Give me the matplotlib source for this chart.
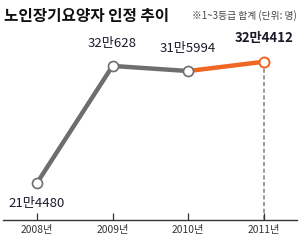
import matplotlib
matplotlib.use('Agg')
import matplotlib.pyplot as plt

plt.rcParams['font.family'] = ['Noto Sans CJK KR', 'DejaVu Sans']

# Data
years = [2008, 2009, 2010, 2011]
values = [214480, 320628, 315994, 324412]
value_labels = ['21만4480', '32만628', '31만5994', '32만4412']
tick_labels = ['2008년', '2009년', '2010년', '2011년']

GRAY = '#6e6e6e'
ORANGE = '#f06522'
TEXT = '#1a1a2a'

fig = plt.figure(figsize=(3.0, 2.45), dpi=100)
ax = fig.add_axes([0.01, 0.102, 0.98, 0.735])

# lines
ax.plot(years[:3], values[:3], color=GRAY, lw=3.2, solid_capstyle='butt', zorder=2)
ax.plot(years[2:], values[2:], color=ORANGE, lw=3.2, solid_capstyle='butt', zorder=2)

# dashed drop line for latest year
ax.plot([years[-1], years[-1]], [values[-1], 180000], color='#8a8a8a', lw=1.2,
        ls=(0, (2.5, 1.5)), zorder=1)

# markers
ax.scatter(years[:3], values[:3], s=52, facecolor='white', edgecolor=GRAY,
           linewidth=1.2, zorder=3)
ax.scatter(years[3:], values[3:], s=52, facecolor='white', edgecolor=ORANGE,
           linewidth=1.4, zorder=3)

# value labels
offsets = [(0, -15), (0, 16), (0, 16), (0, 17)]
for i, (x, v, lab) in enumerate(zip(years, values, value_labels)):
    dx, dy = offsets[i]
    ax.annotate(lab, (x, v), xytext=(dx, dy), textcoords='offset points',
                ha='center', va='center', fontsize=9.5, color=TEXT,
                fontweight='bold' if i == 3 else 'normal')

ax.set_xlim(2007.55, 2011.44)
ax.set_ylim(180900, 344200)

for s in ['top', 'right', 'left']:
    ax.spines[s].set_visible(False)
ax.spines['bottom'].set_color('#333333')
ax.spines['bottom'].set_linewidth(1.0)
ax.set_yticks([])
ax.set_xticks(years)
ax.set_xticklabels(tick_labels, fontsize=7.4, color='#333333')
ax.tick_params(axis='x', direction='in', length=5, width=0.9, color='#333333', pad=3.5)

fig.text(0.013, 0.935, '노인장기요양자 인정 추이', fontsize=11.3, fontweight='bold',
         color='#111111', va='center', ha='left')
fig.text(0.99, 0.935, '※1~3등급 합계 (단위: 명)', fontsize=7.0, color='#444444',
         va='center', ha='right')

fig.savefig('out.png', dpi=100)
